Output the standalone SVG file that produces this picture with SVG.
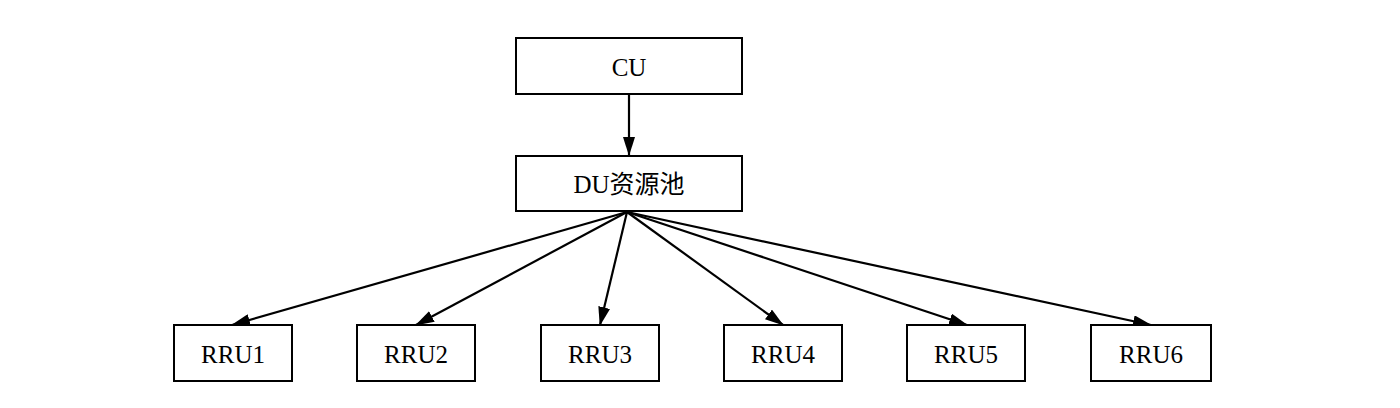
<svg xmlns="http://www.w3.org/2000/svg" width="1400" height="408" viewBox="0 0 1400 408">
<style>
.box{fill:#fff;stroke:#000;stroke-width:2}
.lbl{font-family:"Liberation Serif","Noto Sans CJK SC",serif;font-size:25px;fill:#000;text-anchor:middle;dominant-baseline:central}
.edge{stroke:#000;stroke-width:2.2;fill:none;marker-end:url(#ah)}
</style>
<defs>
<marker id="ah" markerWidth="19" markerHeight="12" refX="18" refY="6" orient="auto" markerUnits="userSpaceOnUse" viewBox="0 0 19 12">
<path d="M0,0 L19,6 L0,12 Z" fill="#000"/>
</marker>
</defs>
<rect width="1400" height="408" fill="#fff"/>
<g id="connectors">
<line class="edge" x1="629" y1="95" x2="629" y2="155"/>
<line class="edge" x1="627" y1="212" x2="232" y2="325"/>
<line class="edge" x1="627" y1="212" x2="416" y2="325"/>
<line class="edge" x1="627" y1="212" x2="600" y2="325"/>
<line class="edge" x1="627" y1="212" x2="783" y2="325"/>
<line class="edge" x1="627" y1="212" x2="967" y2="325"/>
<line class="edge" x1="627" y1="212" x2="1151" y2="325"/>
</g>
<g id="cu"><rect class="box" x="516" y="38" width="226" height="56"/><text class="lbl" x="629" y="67">CU</text></g>
<g id="du"><rect class="box" x="516" y="156" width="226" height="55"/><text class="lbl" x="629" y="184">DU资源池</text></g>
<g id="rru1"><rect class="box" x="174" y="325" width="118" height="56"/><text class="lbl" x="233" y="354">RRU1</text></g>
<g id="rru2"><rect class="box" x="357" y="325" width="118" height="56"/><text class="lbl" x="416" y="354">RRU2</text></g>
<g id="rru3"><rect class="box" x="541" y="325" width="118" height="56"/><text class="lbl" x="600" y="354">RRU3</text></g>
<g id="rru4"><rect class="box" x="724" y="325" width="118" height="56"/><text class="lbl" x="783" y="354">RRU4</text></g>
<g id="rru5"><rect class="box" x="907" y="325" width="118" height="56"/><text class="lbl" x="966" y="354">RRU5</text></g>
<g id="rru6"><rect class="box" x="1091" y="325" width="120" height="56"/><text class="lbl" x="1151" y="354">RRU6</text></g>
</svg>
